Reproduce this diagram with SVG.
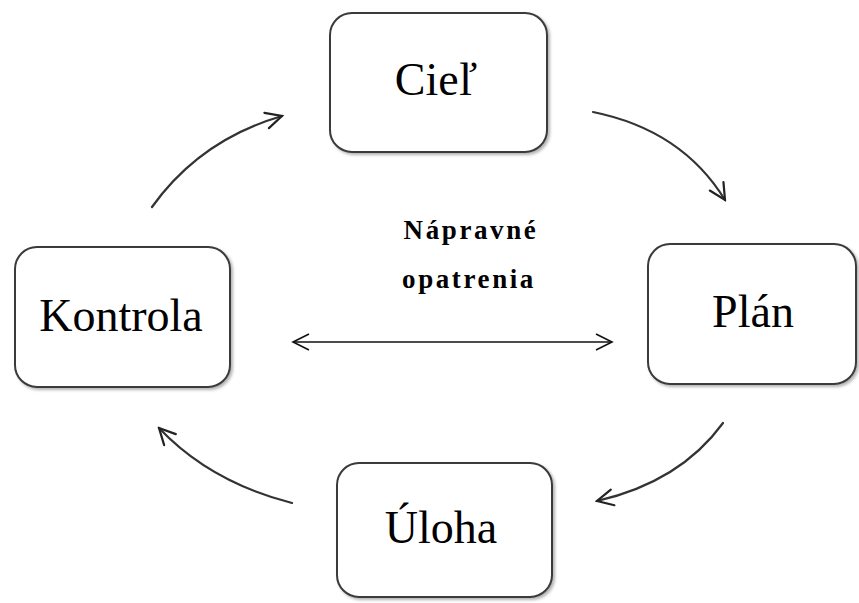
<svg xmlns="http://www.w3.org/2000/svg" width="859" height="603" viewBox="0 0 859 603">
  <defs>
    <filter id="shadow" x="-10%" y="-10%" width="125%" height="125%">
      <feDropShadow dx="2" dy="2" stdDeviation="1.5" flood-color="#000" flood-opacity="0.3"/>
    </filter>
    <marker id="chev" viewBox="0 0 20 20" refX="18" refY="10" markerWidth="20" markerHeight="20" markerUnits="userSpaceOnUse" orient="auto-start-reverse">
      <path d="M2,2 L18,10 L2,18" fill="none" stroke="#222" stroke-width="2.2" stroke-linecap="round" stroke-linejoin="miter"/>
    </marker>
    <marker id="chevThin" viewBox="0 0 20 20" refX="18" refY="10" markerWidth="20" markerHeight="20" markerUnits="userSpaceOnUse" orient="auto-start-reverse">
      <path d="M2,2 L18,10 L2,18" fill="none" stroke="#111" stroke-width="1.6"/>
    </marker>
  </defs>
  <style>
    .box { fill: #fff; stroke: #3a3a3a; stroke-width: 2; filter: url(#shadow); }
    .lbl { font-family: "Liberation Serif", "Times New Roman", serif; font-size: 46px; fill: #000; text-anchor: middle; }
    .mid { font-family: "Liberation Serif", "Times New Roman", serif; font-size: 27px; font-weight: bold; fill: #000; letter-spacing: 2.6px; text-anchor: middle; }
    .arc { fill: none; stroke: #333; stroke-width: 2.2; stroke-linecap: round; marker-end: url(#chev); }
    .both { fill: none; stroke: #111; stroke-width: 1.6; marker-start: url(#chevThin); marker-end: url(#chevThin); }
  </style>

  <rect width="859" height="603" fill="#fff"/>

  <g id="connectors">
    <path class="arc" d="M152,207 Q200,140 282,116"/>
    <path class="arc" d="M593,112 Q682,130 725,200"/>
    <path class="arc" d="M723,423 Q680,482 597,501"/>
    <path class="arc" d="M292,503 Q210,482 159,428"/>
    <path class="both" d="M293,342 L612,342"/>
  </g>

  <g id="ciel">
    <rect class="box" x="330" y="13" width="217" height="139" rx="22"/>
    <text class="lbl" x="436" y="95">Cieľ</text>
  </g>

  <g id="kontrola">
    <rect class="box" x="15" y="247" width="215" height="140" rx="22"/>
    <text class="lbl" x="121" y="331">Kontrola</text>
  </g>

  <g id="plan">
    <rect class="box" x="648" y="244" width="208" height="140" rx="22"/>
    <text class="lbl" x="753" y="327">Plán</text>
  </g>

  <g id="uloha">
    <rect class="box" x="337" y="463" width="215" height="134" rx="22"/>
    <text class="lbl" x="441" y="543">Úloha</text>
  </g>

  <g id="napravne">
    <text class="mid" x="471" y="239">Nápravné</text>
    <text class="mid" x="469" y="288">opatrenia</text>
  </g>
</svg>
